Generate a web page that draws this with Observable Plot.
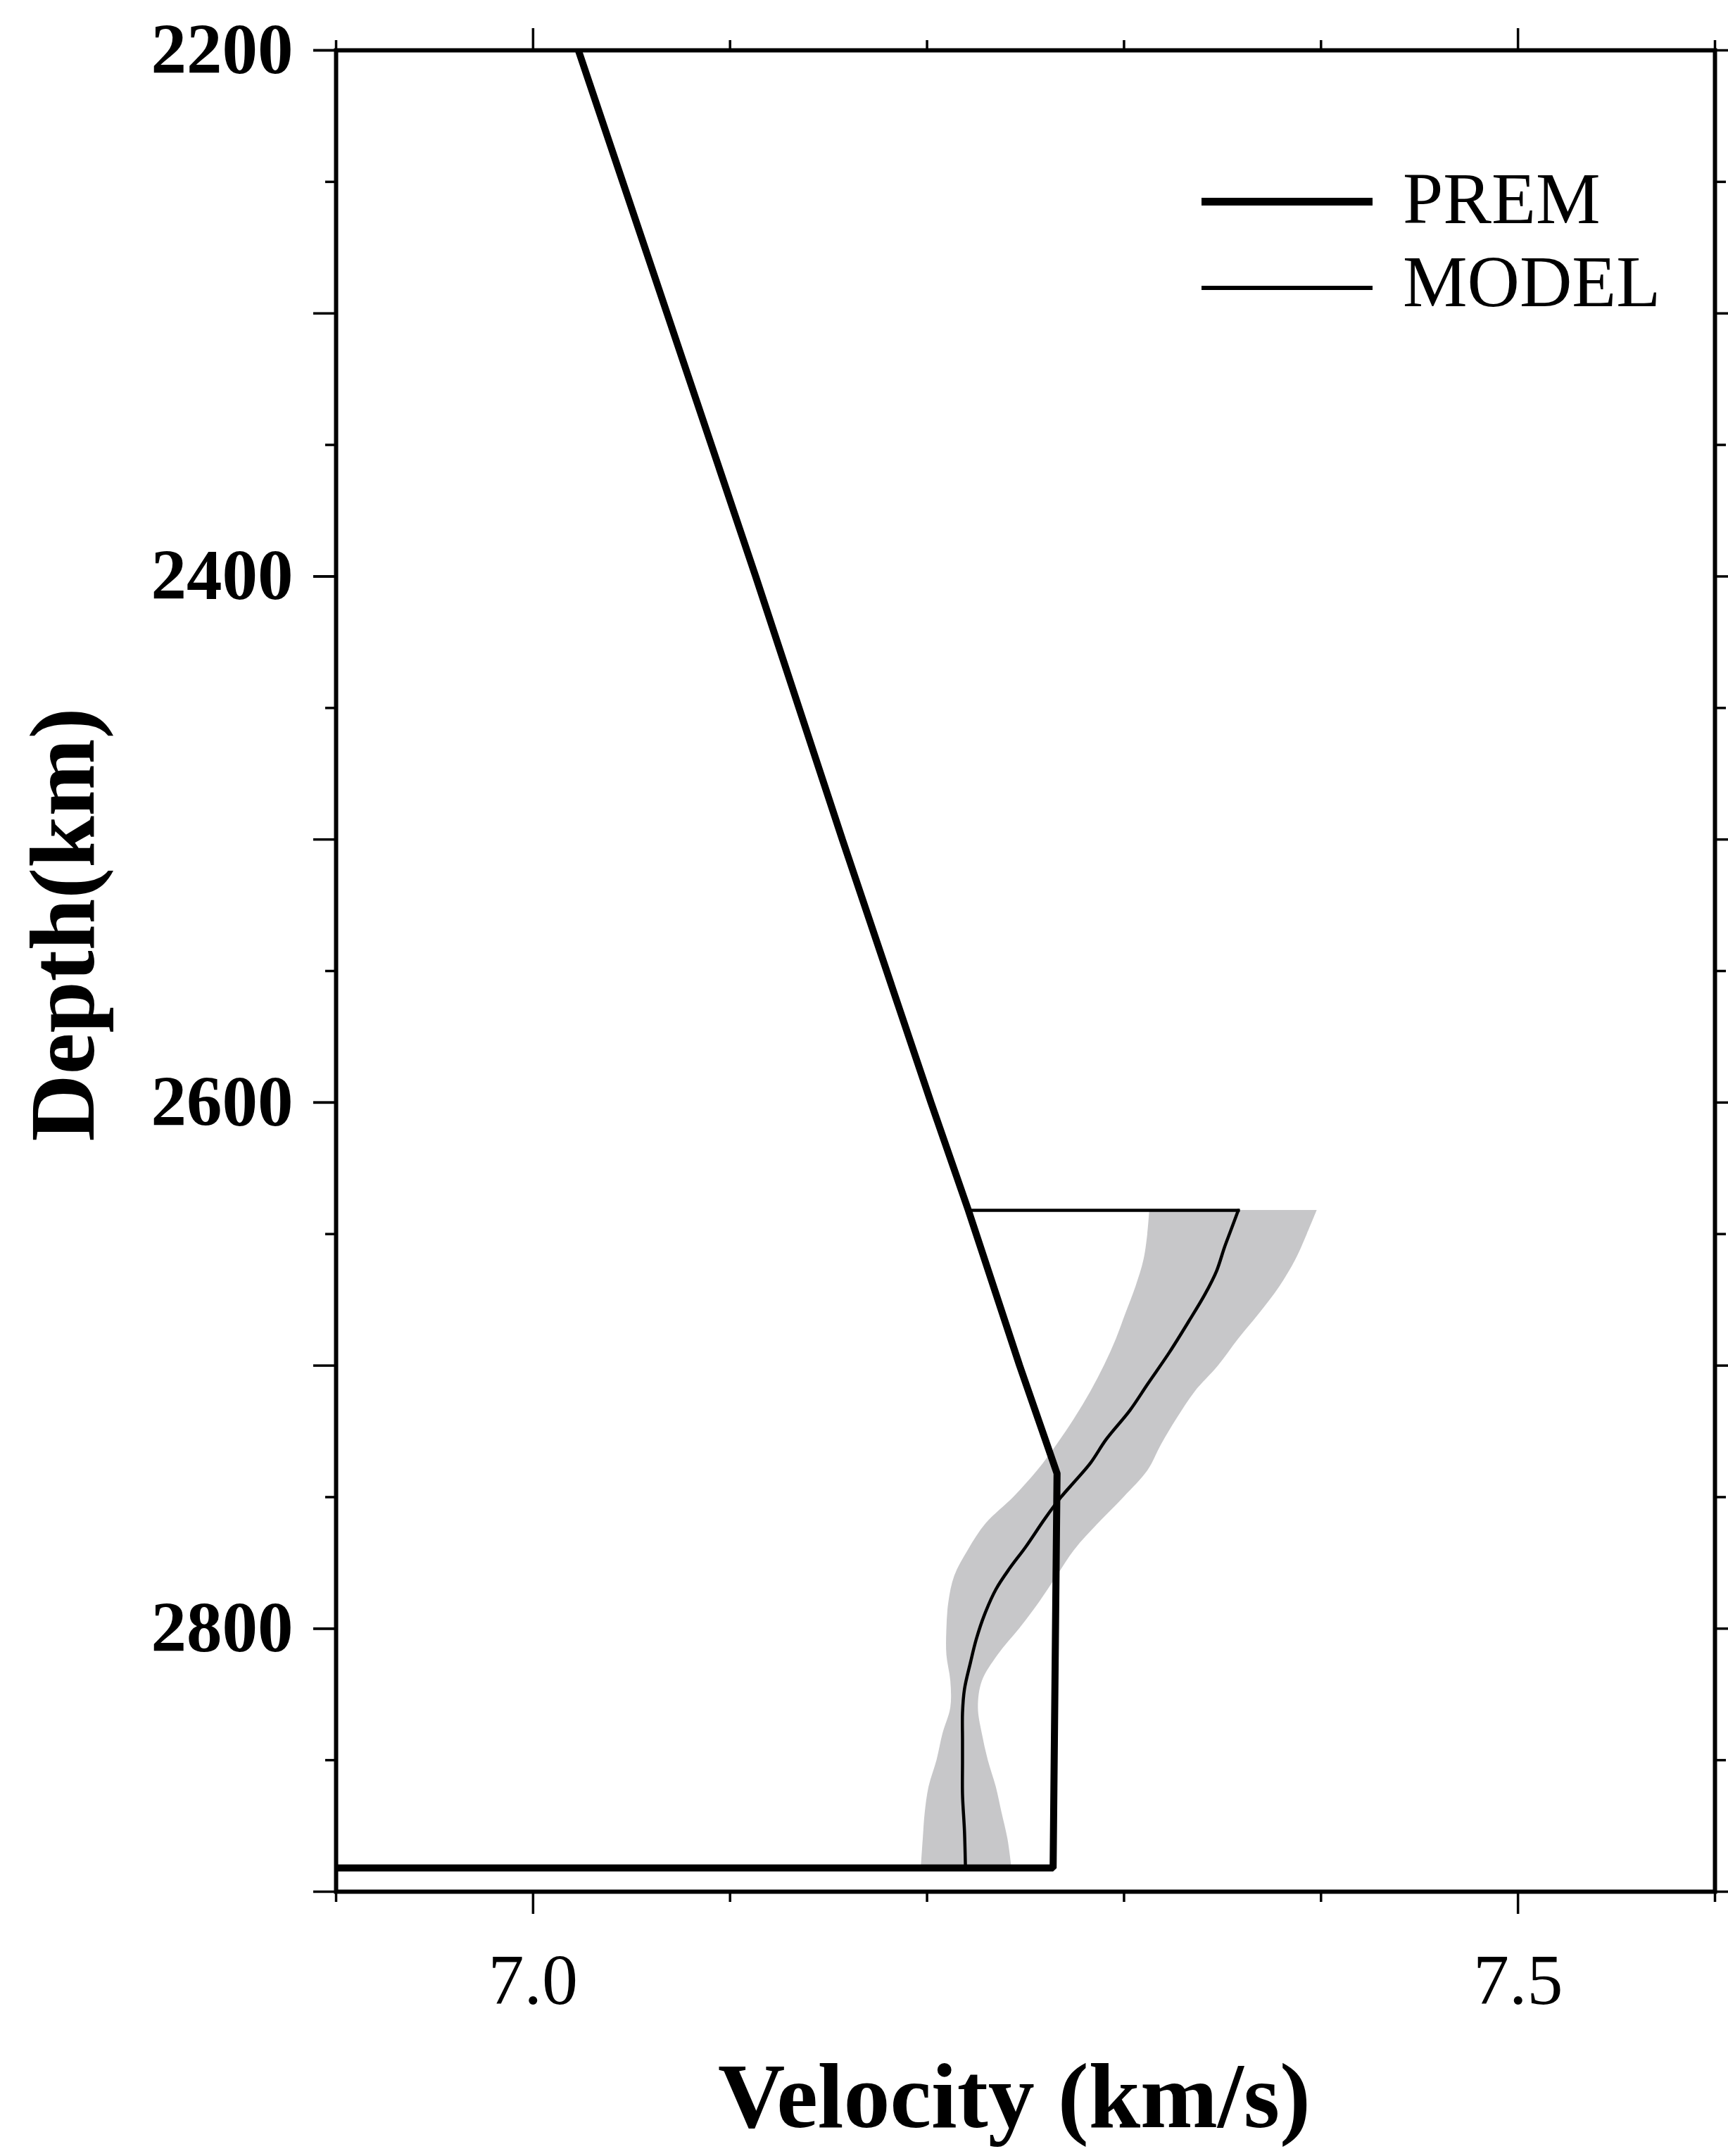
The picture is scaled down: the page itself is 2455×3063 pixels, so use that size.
<!DOCTYPE html>
<html>
<head>
<meta charset="utf-8">
<script src="https://cdn.jsdelivr.net/npm/d3@7"></script>
<script src="https://cdn.jsdelivr.net/npm/@observablehq/plot@0.6"></script>
<style>
  html, body { margin: 0; padding: 0; background: #fff; }
  #chart { position: relative; width: 2455px; height: 3063px; overflow: hidden; }
  #chart svg { display: block; }
  .lg-line { position: absolute; background: #000; }
  .lg-text { position: absolute; font-family: 'Liberation Serif', 'Times New Roman', serif; font-size: 103px; line-height: 103px; color: #000; white-space: nowrap; }
</style>
</head>
<body>
<div id="chart"></div>
<script>
// ---- Data ----
// PREM shear velocity (km/s) vs depth (km); outer core Vs = 0 below the CMB
const premDepth = [2200, 2300, 2400, 2500, 2600, 2641, 2700, 2741, 2891, 2891];
const premVs    = [7.023, 7.068, 7.113, 7.157, 7.202, 7.221, 7.247, 7.266, 7.264, 0];

// MODEL shear velocity (first point: junction with PREM at top of the layer)
const modelDepth = [2641, 2641, 2649, 2655, 2664, 2673, 2683, 2695, 2707, 2717, 2728, 2737, 2744, 2750, 2758, 2769, 2777, 2785, 2795, 2804, 2813, 2823, 2832, 2842, 2851, 2863, 2877, 2891];
const modelVs    = [7.221, 7.358, 7.354, 7.351, 7.347, 7.341, 7.333, 7.323, 7.312, 7.303, 7.291, 7.283, 7.275, 7.268, 7.260, 7.250, 7.242, 7.235, 7.229, 7.225, 7.222, 7.219, 7.218, 7.218, 7.218, 7.218, 7.219, 7.2195];

// Uncertainty band of the model (grey)
const bandDepth = [2641, 2650, 2660, 2670, 2680, 2690, 2700, 2710, 2720, 2730, 2740, 2750, 2760, 2770, 2780, 2790, 2800, 2810, 2820, 2830, 2840, 2850, 2860, 2870, 2880, 2891];
const bandLow   = [7.313, 7.312, 7.310, 7.306, 7.301, 7.296, 7.290, 7.283, 7.275, 7.266, 7.256, 7.244, 7.230, 7.221, 7.214, 7.211, 7.210, 7.210, 7.212, 7.212, 7.208, 7.205, 7.201, 7.199, 7.198, 7.197];
const bandHigh  = [7.398, 7.393, 7.387, 7.379, 7.369, 7.358, 7.348, 7.336, 7.327, 7.319, 7.312, 7.300, 7.287, 7.275, 7.266, 7.257, 7.247, 7.236, 7.228, 7.226, 7.228, 7.231, 7.235, 7.238, 7.241, 7.243];

// Axes
const xDomain = [6.9, 7.6];
const yDomain = [2200, 2900];
const xMajorTicks = [7.0, 7.5];
const xMinorTicks = [6.9, 7.1, 7.2, 7.3, 7.4, 7.6];
const yMajorTicks = [2200, 2300, 2400, 2500, 2600, 2700, 2800, 2900];
const yLabelTicks = [2200, 2400, 2600, 2800];
const yMinorTicks = [2250, 2350, 2450, 2550, 2650, 2750, 2850];
const xTitle = "Velocity (km/s)";
const yTitle = "Depth(km)";
const legendNames = ["PREM", "MODEL"];

// ---- Tables ----
const prem = premDepth.map((d, i) => ({depth: d, vs: premVs[i]}));
const model = modelDepth.map((d, i) => ({depth: d, vs: modelVs[i]}));
const band = bandDepth.map((d, i) => ({depth: d, lo: bandLow[i], hi: bandHigh[i]}));
const modelTop = model.slice(0, 2);   // horizontal jump at the top of the layer
const modelCurve = model.slice(1);    // smooth profile below

const FONT = "'Liberation Serif', 'Times New Roman', serif";
const TW = 3.5; // tick stroke width

const chart = Plot.plot({
  width: 2455,
  height: 3063,
  marginLeft: 477,
  marginRight: 19,
  marginTop: 71,
  marginBottom: 376,
  x: {domain: xDomain},
  y: {domain: yDomain, reverse: true},
  style: {fontFamily: FONT, color: "#000", background: "#fff"},
  marks: [
    Plot.areaX(band, {y: "depth", x1: "lo", x2: "hi", fill: "#c7c7c9", curve: "catmull-rom"}),
    Plot.line(modelTop, {x: "vs", y: "depth", stroke: "#000", strokeWidth: 4.5, strokeLinecap: "square"}),
    Plot.line(modelCurve, {x: "vs", y: "depth", stroke: "#000", strokeWidth: 4.5, curve: "catmull-rom", clip: true}),
    Plot.line(prem, {x: "vs", y: "depth", stroke: "#000", strokeWidth: 10, strokeLinejoin: "miter", strokeLinecap: "butt", clip: true}),
    Plot.frame({stroke: "#000", strokeWidth: 6}),
    // bottom axis
    Plot.axisX(xMinorTicks, {anchor: "bottom", tickSize: 15, strokeWidth: TW, fill: "none", tickFormat: () => "", label: null}),
    Plot.axisX(xMajorTicks, {anchor: "bottom", tickSize: 32, tickPadding: 55, strokeWidth: TW, fontSize: 102, tickFormat: ".1f", label: null}),
    // top axis
    Plot.axisX(xMinorTicks, {anchor: "top", tickSize: 15, strokeWidth: TW, fill: "none", tickFormat: () => "", label: null}),
    Plot.axisX(xMajorTicks, {anchor: "top", tickSize: 32, strokeWidth: TW, fill: "none", tickFormat: () => "", label: null}),
    // left axis
    Plot.axisY(yMinorTicks, {anchor: "left", tickSize: 15, strokeWidth: TW, fill: "none", tickFormat: () => "", label: null}),
    Plot.axisY(yMajorTicks, {anchor: "left", tickSize: 32, strokeWidth: TW, fill: "none", tickFormat: () => "", label: null}),
    Plot.axisY(yLabelTicks, {anchor: "left", tickSize: 32, tickPadding: 29, strokeWidth: TW, fontSize: 101, fontWeight: "bold", tickFormat: "d", label: null}),
    // right axis
    Plot.axisY(yMinorTicks, {anchor: "right", tickSize: 15, strokeWidth: TW, fill: "none", tickFormat: () => "", label: null}),
    Plot.axisY(yMajorTicks, {anchor: "right", tickSize: 32, strokeWidth: TW, fill: "none", tickFormat: () => "", label: null}),
    // axis titles
    Plot.text([xTitle], {text: d => d, frameAnchor: "bottom", lineAnchor: "middle", textAnchor: "middle", dx: -16, dy: 292, fontSize: 132, fontWeight: "bold"}),
    Plot.text([yTitle], {text: d => d, frameAnchor: "left", rotate: -90, lineAnchor: "middle", textAnchor: "middle", dx: -387, dy: -66, fontSize: 132, fontWeight: "bold"})
  ]
});

const container = document.getElementById("chart");
container.appendChild(chart);

// ---- Legend (inside the frame, upper right) ----
const legendLineWidths = [11, 6];
const legendRowY = [286.7, 408.7];   // line centre
const legendBaseline = [317, 435];   // text baseline
legendNames.forEach((name, i) => {
  const line = document.createElement("div");
  line.className = "lg-line";
  line.style.left = "1707px";
  line.style.width = "243px";
  line.style.height = legendLineWidths[i] + "px";
  line.style.top = (legendRowY[i] - legendLineWidths[i] / 2) + "px";
  container.appendChild(line);
  const t = document.createElement("div");
  t.className = "lg-text";
  t.textContent = name;
  t.style.left = "1993px";
  t.style.top = (legendBaseline[i] - 86.3) + "px";
  container.appendChild(t);
});
</script>
</body>
</html>
